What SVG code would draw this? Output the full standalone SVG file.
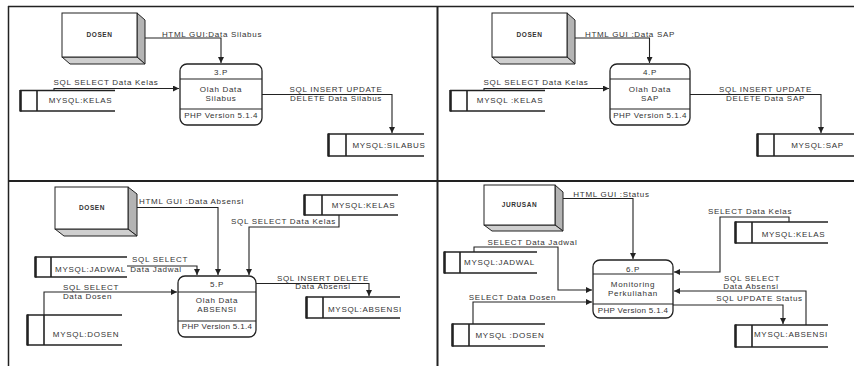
<svg xmlns="http://www.w3.org/2000/svg" width="854" height="366" viewBox="0 0 854 366">
<defs>
<marker id="ah" markerUnits="userSpaceOnUse" markerWidth="7" markerHeight="6" refX="6" refY="3" orient="auto">
<path d="M0,0 L6,3 L0,6 Z" fill="#222"/>
</marker>
<style>
text{font-family:"Liberation Sans",Arial,sans-serif;font-size:8px;fill:#333;letter-spacing:0.7px;text-anchor:middle}
.ent{font-size:6.5px;font-weight:bold;letter-spacing:0.6px}
.ver{letter-spacing:0.5px}
.frame{stroke:#222;fill:none}
.conn path{fill:none;stroke:#222;stroke-width:1.1}
.arr{marker-end:url(#ah)}
.proc rect{fill:#fff;stroke:#222;stroke-width:1.3}
.proc line{stroke:#222;stroke-width:1.1}
.st line{stroke:#222;stroke-width:1.6}
.st .edge{stroke-width:2.6}
.front{fill:#fff;stroke:#222;stroke-width:1}
.side{fill:#b4b4b4;stroke:#222;stroke-width:1}
.bot{fill:#cfcfcf;stroke:#222;stroke-width:1}
</style>
</defs>

<!-- frame -->
<g id="frame">
<line class="frame" x1="8" y1="6.5" x2="854" y2="6.5" stroke-width="1.5"/>
<line class="frame" x1="8.5" y1="6" x2="8.5" y2="366" stroke-width="1.5"/>
<line class="frame" x1="8" y1="181" x2="854" y2="181" stroke-width="2.2"/>
<line class="frame" x1="437.5" y1="6" x2="437.5" y2="366" stroke-width="2"/>
</g>

<!-- connectors -->
<g id="connectors" class="conn">
<!-- Q1 -->
<path class="arr" d="M145,38 H221 V63"/>
<text x="212" y="36.5">HTML GUI:Data Silabus</text>
<path class="arr" d="M54,90.5 V88.5 H179"/>
<text x="106" y="85">SQL SELECT Data Kelas</text>
<path class="arr" d="M262,94.5 H392 V133"/>
<text x="336" y="91.5">SQL INSERT UPDATE</text>
<text x="336" y="100.5">DELETE Data Silabus</text>
<!-- Q2 -->
<path class="arr" d="M575,38 H649.5 V63"/>
<text x="630" y="36.5">HTML GUI :Data SAP</text>
<path class="arr" d="M484,90.5 V88.5 H609"/>
<text x="536" y="85">SQL SELECT Data Kelas</text>
<path class="arr" d="M690,94.5 H821 V133"/>
<text x="765.5" y="91.5">SQL INSERT UPDATE</text>
<text x="765.5" y="100.5">DELETE Data SAP</text>
<!-- Q3 -->
<path class="arr" d="M137,207.5 H218 V275"/>
<text x="191.5" y="204">HTML GUI :Data Absensi</text>
<path class="arr" d="M127,266 H197 V275"/>
<text x="160" y="261.5">SQL SELECT</text>
<text x="156" y="271.5">Data Jadwal</text>
<path class="arr" d="M44,315 V292 H177"/>
<text x="91" y="289.5">SQL SELECT</text>
<text x="87.5" y="299">Data Dosen</text>
<path class="arr" d="M339,215 V227 H249 V275"/>
<text x="283.5" y="224">SQL SELECT Data Kelas</text>
<path class="arr" d="M256,283.5 H369 V296"/>
<text x="323" y="281">SQL INSERT DELETE</text>
<text x="323" y="289">Data Absensi</text>
<!-- Q4 -->
<path class="arr" d="M563,198.5 H633 V259"/>
<text x="611.5" y="196.5">HTML GUI :Status</text>
<path class="arr" d="M474,252 V247 H558 V290 H592"/>
<text x="532.5" y="244.5">SELECT Data Jadwal</text>
<path class="arr" d="M473,324 V302 H592"/>
<text x="512.5" y="299.5">SELECT Data Dosen</text>
<path class="arr" d="M789,222 V217 H720 V272 H674"/>
<text x="750" y="214">SELECT Data Kelas</text>
<path class="arr" d="M806,325 V291 H674"/>
<text x="752" y="281">SQL SELECT</text>
<text x="751" y="288.5">Data Absensi</text>
<path class="arr" d="M673,305 H783 V324"/>
<text x="759.5" y="300.5">SQL UPDATE Status</text>
</g>

<!-- Q1 nodes -->
<g id="dosen1">
<polygon class="side" points="137,13 145,20 145,64 137,57"/>
<polygon class="bot" points="62,57 137,57 145,64 70,64"/>
<rect class="front" x="62" y="13" width="75" height="44"/>
<text class="ent" x="99.5" y="37">DOSEN</text>
</g>
<g id="proc3" class="proc">
<rect x="180" y="64" width="82" height="61" rx="7"/>
<line x1="180" y1="79" x2="262" y2="79"/>
<line x1="180" y1="109" x2="262" y2="109"/>
<text x="221" y="75">3.P</text>
<text x="221" y="92">Olah Data</text>
<text x="221" y="101">Silabus</text>
<text class="ver" x="221" y="118">PHP Version 5.1.4</text>
</g>
<g id="kelas1" class="st">
<line x1="20" y1="90.5" x2="115" y2="90.5"/>
<line x1="20" y1="111" x2="115" y2="111"/>
<line class="edge" x1="20.5" y1="90" x2="20.5" y2="111.5"/>
<line x1="37" y1="90.5" x2="37" y2="111"/>
<text x="80.5" y="103">MYSQL:KELAS</text>
</g>
<g id="silabus" class="st">
<line x1="328" y1="134" x2="424" y2="134"/>
<line x1="328" y1="156" x2="424" y2="156"/>
<line class="edge" x1="328.5" y1="133.5" x2="328.5" y2="156.5"/>
<line x1="346" y1="134" x2="346" y2="156"/>
<text x="389" y="148">MYSQL:SILABUS</text>
</g>

<!-- Q2 nodes -->
<g id="dosen2">
<polygon class="side" points="567,13 575,20 575,64 567,57"/>
<polygon class="bot" points="492,57 567,57 575,64 500,64"/>
<rect class="front" x="492" y="13" width="75" height="44"/>
<text class="ent" x="529.5" y="37">DOSEN</text>
</g>
<g id="proc4" class="proc">
<rect x="610" y="64" width="80" height="61" rx="7"/>
<line x1="610" y1="79" x2="690" y2="79"/>
<line x1="610" y1="109" x2="690" y2="109"/>
<text x="650" y="75">4.P</text>
<text x="650" y="92">Olah Data</text>
<text x="650" y="101">SAP</text>
<text class="ver" x="650" y="118">PHP Version 5.1.4</text>
</g>
<g id="kelas2" class="st">
<line x1="450" y1="90.5" x2="545" y2="90.5"/>
<line x1="450" y1="111" x2="545" y2="111"/>
<line class="edge" x1="450.5" y1="90" x2="450.5" y2="111.5"/>
<line x1="467" y1="90.5" x2="467" y2="111"/>
<text x="510" y="103">MYSQL :KELAS</text>
</g>
<g id="sap" class="st">
<line x1="757" y1="134" x2="854" y2="134"/>
<line x1="757" y1="156" x2="854" y2="156"/>
<line class="edge" x1="757.5" y1="133.5" x2="757.5" y2="156.5"/>
<line x1="774" y1="134" x2="774" y2="156"/>
<text x="817.5" y="148">MYSQL:SAP</text>
</g>

<!-- Q3 nodes -->
<g id="dosen3">
<polygon class="side" points="128,187 137,194 137,236 128,229"/>
<polygon class="bot" points="55,229 128,229 137,236 64,236"/>
<rect class="front" x="55" y="187" width="73" height="42"/>
<text class="ent" x="92" y="210">DOSEN</text>
</g>
<g id="proc5" class="proc">
<rect x="178" y="276" width="78" height="61" rx="7"/>
<line x1="178" y1="292" x2="256" y2="292"/>
<line x1="178" y1="321" x2="256" y2="321"/>
<text x="217" y="286.5">5.P</text>
<text x="217" y="303">Olah Data</text>
<text x="217" y="311.5">ABSENSI</text>
<text class="ver" x="217" y="329" style="letter-spacing:0.3px">PHP Version 5.1.4</text>
</g>
<g id="jadwal3" class="st">
<line x1="35" y1="257" x2="127" y2="257"/>
<line x1="35" y1="277" x2="127" y2="277"/>
<line class="edge" x1="35.5" y1="256.5" x2="35.5" y2="277.5"/>
<line x1="51" y1="257" x2="51" y2="277"/>
<text x="90.5" y="271.5">MYSQL:JADWAL</text>
</g>
<g id="dosendb3" class="st">
<line x1="27" y1="315" x2="122" y2="315"/>
<line x1="27" y1="345" x2="122" y2="345"/>
<line class="edge" x1="27.5" y1="314.5" x2="27.5" y2="345.5"/>
<line x1="44" y1="315" x2="44" y2="345"/>
<text x="86" y="337">MYSQL:DOSEN</text>
</g>
<g id="kelas3" class="st">
<line x1="304" y1="195" x2="398" y2="195"/>
<line x1="304" y1="215" x2="398" y2="215"/>
<line class="edge" x1="304.5" y1="194.5" x2="304.5" y2="215.5"/>
<line x1="322" y1="195" x2="322" y2="215"/>
<text x="363.5" y="207.5">MYSQL:KELAS</text>
</g>
<g id="absensi3" class="st">
<line x1="306" y1="297" x2="400" y2="297"/>
<line x1="306" y1="318" x2="400" y2="318"/>
<line class="edge" x1="306.5" y1="296.5" x2="306.5" y2="318.5"/>
<line x1="323" y1="297" x2="323" y2="318"/>
<text x="365" y="311.5">MYSQL:ABSENSI</text>
</g>

<!-- Q4 nodes -->
<g id="jurusan">
<polygon class="side" points="555,185 563,192 563,231 555,225"/>
<polygon class="bot" points="484,225 555,225 563,231 492,231"/>
<rect class="front" x="484" y="185" width="71" height="40"/>
<text class="ent" x="519.5" y="206.5">JURUSAN</text>
</g>
<g id="proc6" class="proc">
<rect x="593" y="260" width="80" height="58" rx="7"/>
<line x1="593" y1="274" x2="673" y2="274"/>
<line x1="593" y1="304" x2="673" y2="304"/>
<text x="633" y="271.5">6.P</text>
<text x="633" y="287">Monitoring</text>
<text x="633" y="295.5">Perkuliahan</text>
<text class="ver" x="633" y="313" style="letter-spacing:0.3px">PHP Version 5.1.4</text>
</g>
<g id="jadwal4" class="st">
<line x1="444" y1="252" x2="537" y2="252"/>
<line x1="444" y1="273" x2="537" y2="273"/>
<line class="edge" x1="444.5" y1="251.5" x2="444.5" y2="273.5"/>
<line x1="460" y1="252" x2="460" y2="273"/>
<text x="499.5" y="265">MYSQL:JADWAL</text>
</g>
<g id="dosendb4" class="st">
<line x1="452" y1="324" x2="545" y2="324"/>
<line x1="452" y1="346" x2="545" y2="346"/>
<line class="edge" x1="452.5" y1="323.5" x2="452.5" y2="346.5"/>
<line x1="469" y1="324" x2="469" y2="346"/>
<text x="510" y="337.5">MYSQL :DOSEN</text>
</g>
<g id="kelas4" class="st">
<line x1="735" y1="222" x2="828" y2="222"/>
<line x1="735" y1="243" x2="828" y2="243"/>
<line class="edge" x1="735.5" y1="221.5" x2="735.5" y2="243.5"/>
<line x1="752" y1="222" x2="752" y2="243"/>
<text x="793.5" y="236.5">MYSQL:KELAS</text>
</g>
<g id="absensi4" class="st">
<line x1="735" y1="325" x2="828" y2="325"/>
<line x1="735" y1="347" x2="828" y2="347"/>
<line class="edge" x1="735.5" y1="324.5" x2="735.5" y2="347.5"/>
<line x1="752" y1="325" x2="752" y2="347"/>
<text x="791" y="337">MYSQL:ABSENSI</text>
</g>
</svg>
